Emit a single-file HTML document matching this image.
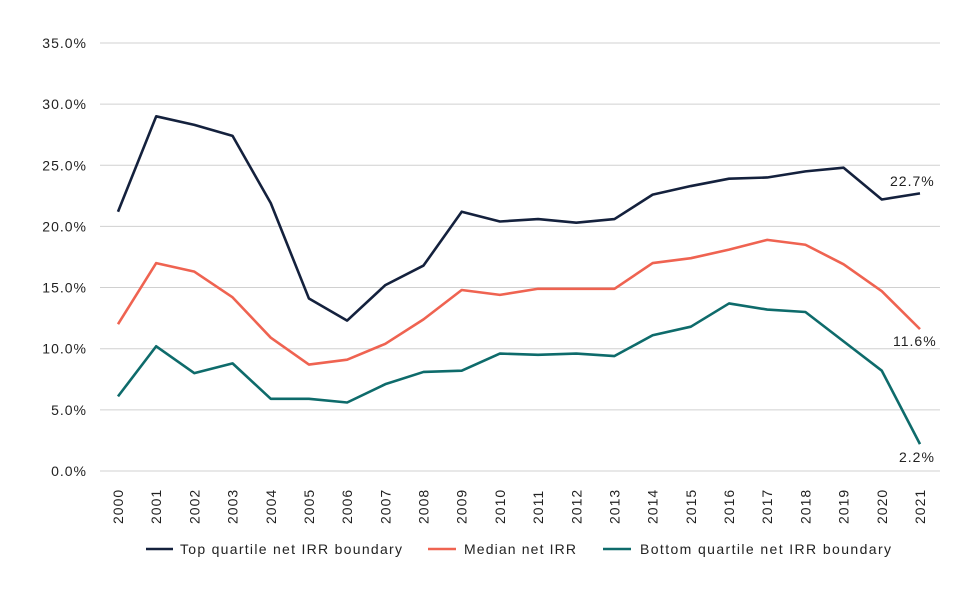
<!DOCTYPE html>
<html><head><meta charset="utf-8"><style>
body{margin:0;background:#fff;}
svg{display:block;font-family:"Liberation Sans",sans-serif;}
text{letter-spacing:1px;}
</style></head><body>
<svg width="978" height="598" viewBox="0 0 978 598" xmlns="http://www.w3.org/2000/svg">
<g id="grid" stroke="#d0d0d0" stroke-width="1"></g>
<g id="ylab" font-size="14" fill="#222" text-anchor="end"></g>
<g id="xlab" font-size="14" fill="#222"></g>
<g id="series" fill="none" stroke-width="2.6" stroke-linejoin="round"></g>
<g font-size="14" fill="#222">
<text x="890" y="186">22.7%</text>
<text x="893" y="346">11.6%</text>
<text x="899" y="462">2.2%</text>
</g>
<g font-size="14" fill="#222">
<line x1="146" y1="549" x2="173" y2="549" stroke="#14213d" stroke-width="2.6"/>
<text x="180" y="554" textLength="223">Top quartile net IRR boundary</text>
<line x1="428" y1="549" x2="456" y2="549" stroke="#ef6351" stroke-width="2.6"/>
<text x="464" y="554" textLength="113">Median net IRR</text>
<line x1="603" y1="549" x2="631" y2="549" stroke="#0e6b6b" stroke-width="2.6"/>
<text x="640" y="554" textLength="252">Bottom quartile net IRR boundary</text>
</g>
</svg>
<script>
const ns="http://www.w3.org/2000/svg";
const y=v=>471-v*12.23, x=i=>118+i*38.19;
const g=document.getElementById('grid'),yl=document.getElementById('ylab'),xl=document.getElementById('xlab'),s=document.getElementById('series');
function el(t,a,p,txt){const e=document.createElementNS(ns,t);for(const k in a)e.setAttribute(k,a[k]);if(txt)e.textContent=txt;p.appendChild(e);return e;}
for(let v=0;v<=35;v+=5){el('line',{x1:100,x2:940,y1:y(v),y2:y(v)},g);el('text',{x:87,y:y(v)+5},yl,v.toFixed(1)+'%');}
for(let i=0;i<22;i++){el('text',{transform:`translate(${x(i)+5},524) rotate(-90)`},xl,String(2000+i));}
const d=[
['#14213d',[21.2,29.0,28.3,27.4,21.9,14.1,12.3,15.2,16.8,21.2,20.4,20.6,20.3,20.6,22.6,23.3,23.9,24.0,24.5,24.8,22.2,22.7]],
['#ef6351',[12.0,17.0,16.3,14.2,10.9,8.7,9.1,10.4,12.4,14.8,14.4,14.9,14.9,14.9,17.0,17.4,18.1,18.9,18.5,16.9,14.7,11.6]],
['#0e6b6b',[6.1,10.2,8.0,8.8,5.9,5.9,5.6,7.1,8.1,8.2,9.6,9.5,9.6,9.4,11.1,11.8,13.7,13.2,13.0,10.6,8.2,2.2]]];
d.forEach(([c,vs])=>el('polyline',{stroke:c,points:vs.map((v,i)=>x(i)+','+y(v)).join(' ')},s));
</script>
</body></html>
